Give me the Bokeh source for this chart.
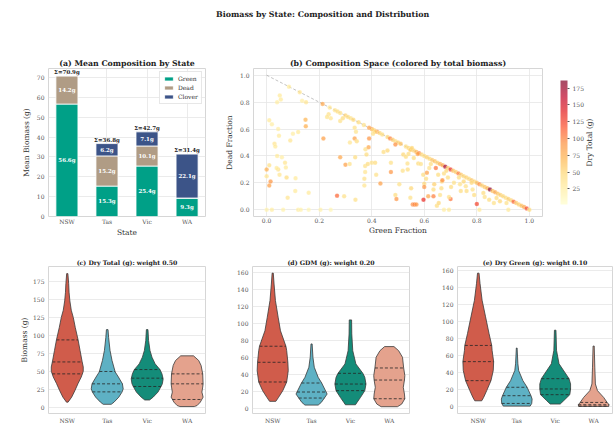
import numpy as np
from bokeh.plotting import figure
from bokeh.models import (ColumnDataSource, FixedTicker, LinearColorMapper, Label,
                          ColorBar, Div, Legend, LegendItem, PrintfTickFormatter)
from bokeh.layouts import column, row
from bokeh.embed import file_html
from bokeh.resources import INLINE
from bokeh.core.properties import value
from bokeh.palettes import YlOrRd9
from bokeh.transform import linear_cmap

SERIF = "DejaVu Serif"

# ---------------- data ----------------
states = ["NSW", "Tas", "Vic", "WA"]
green_mean = [56.6, 15.3, 25.4, 9.3]
dead_mean = [14.2, 15.2, 10.1, 0.0]
clover_mean = [0.1, 6.2, 7.1, 22.1]
total_mean = [70.9, 36.8, 42.7, 31.4]
comp_labels = ["Green", "Dead", "Clover"]
comp_colors = ["#00A087", "#B09C85", "#3C5488"]
violin_colors = ["#D05C4B", "#5EB1C4", "#148C79", "#E4A28D"]

# composition scatter: green fraction, dead fraction, dry total (g)
green_frac = [0.085, 0.126, 0.213, 0.24, 0.26, 0.27, 0.28, 0.30, 0.31, 0.32, 0.33, 0.35, 0.37, 0.39, 0.40,
              0.41, 0.42, 0.43, 0.44, 0.46, 0.47, 0.48, 0.49, 0.50, 0.51, 0.53, 0.54, 0.55, 0.56, 0.57,
              0.58, 0.59, 0.60, 0.61, 0.62, 0.63, 0.64, 0.65, 0.66, 0.67, 0.68, 0.69, 0.70, 0.71, 0.72,
              0.73, 0.74, 0.75, 0.76, 0.77, 0.78, 0.79, 0.80, 0.81, 0.82, 0.83, 0.84, 0.85, 0.86, 0.87,
              0.88, 0.89, 0.90, 0.91, 0.92, 0.93, 0.94, 0.95, 0.96, 0.97, 0.98, 0.99, 1.00,
              0.236, 0.244, 0.23, 0.28, 0.29, 0.335, 0.34, 0.317, 0.335, 0.343, 0.404, 0.413, 0.405,
              0.135, 0.05, 0.054, 0.04, 0.15, 0.01, 0.02, 0.148, 0.149, 0.044, 0.047, 0.03, 0.033, 0.10,
              0.12, 0.09, 0.04, 0.058, 0.07, 0.073, 0.044, 0.038, 0.049, 0.0, 0.0, 0.01, 0.015, 0.01,
              0.076, 0.11, 0.08, 0.109, 0.16, 0.0, 0.02, 0.063, 0.12, 0.13, 0.16, 0.205, 0.244, 0.216,
              0.28, 0.30, 0.316, 0.337, 0.268, 0.295, 0.338, 0.376, 0.38, 0.388, 0.39, 0.375, 0.375,
              0.372, 0.372, 0.385, 0.40, 0.413, 0.417, 0.433, 0.445, 0.46, 0.473, 0.473, 0.49, 0.49,
              0.494, 0.505, 0.52, 0.53, 0.536, 0.547, 0.54, 0.518, 0.537, 0.55, 0.547, 0.556, 0.563,
              0.57, 0.56, 0.575, 0.553, 0.577, 0.587, 0.596, 0.60, 0.60, 0.597, 0.615, 0.61, 0.607,
              0.625, 0.619, 0.638, 0.635, 0.635, 0.644, 0.653, 0.648, 0.655, 0.66, 0.665, 0.667, 0.669,
              0.675, 0.684, 0.69, 0.70, 0.694, 0.702, 0.713, 0.732, 0.736, 0.739, 0.75, 0.758, 0.761,
              0.78, 0.784, 0.79, 0.80, 0.81, 0.825, 0.83, 0.847, 0.865, 0.875, 0.888, 0.913, 0.92,
              0.675, 0.694]
dead_frac = [0.915, 0.874, 0.787, 0.76, 0.74, 0.73, 0.72, 0.70, 0.69, 0.68, 0.67, 0.65, 0.63, 0.61, 0.60,
             0.59, 0.58, 0.57, 0.56, 0.54, 0.53, 0.52, 0.51, 0.50, 0.49, 0.47, 0.46, 0.45, 0.44, 0.43,
             0.42, 0.41, 0.40, 0.39, 0.38, 0.37, 0.36, 0.35, 0.34, 0.33, 0.32, 0.31, 0.30, 0.29, 0.28,
             0.27, 0.26, 0.25, 0.24, 0.23, 0.22, 0.21, 0.20, 0.19, 0.18, 0.17, 0.16, 0.15, 0.14, 0.13,
             0.12, 0.11, 0.10, 0.09, 0.08, 0.07, 0.06, 0.05, 0.04, 0.03, 0.02, 0.01, 0.00,
             0.71, 0.68, 0.69, 0.66, 0.68, 0.61, 0.58, 0.50, 0.53, 0.51, 0.595, 0.58, 0.565,
             0.81, 0.85, 0.82, 0.80, 0.80, 0.665, 0.635, 0.67, 0.62, 0.60, 0.55, 0.49, 0.47, 0.565,
             0.578, 0.515, 0.40, 0.39, 0.35, 0.315, 0.30, 0.31, 0.26, 0.30, 0.25, 0.33, 0.21, 0.18,
             0.24, 0.235, 0.09, 0.14, 0.126, 0.0, 0.0, 0.0, 0.0, 0.0, 0.0, 0.0, 0.0, 0.53,
             0.39, 0.335, 0.34, 0.39, 0.105, 0.10, 0.075, 0.45, 0.41, 0.465, 0.53, 0.325, 0.28,
             0.23, 0.18, 0.34, 0.35, 0.35, 0.26, 0.195, 0.43, 0.44, 0.28, 0.35, 0.485, 0.11,
             0.08, 0.19, 0.41, 0.395, 0.344, 0.445, 0.415, 0.29, 0.30, 0.16, 0.09, 0.04, 0.04,
             0.04, 0.385, 0.415, 0.46, 0.344, 0.34, 0.26, 0.194, 0.17, 0.075, 0.10, 0.275, 0.23,
             0.34, 0.31, 0.19, 0.15, 0.10, 0.31, 0.26, 0.03, 0.05, 0.11, 0.16, 0.21, 0.22,
             0.27, 0.29, 0.24, 0.08, 0.095, 0.17, 0.20, 0.24, 0.19, 0.14, 0.21, 0.175, 0.14,
             0.20, 0.15, 0.11, 0.043, 0.0, 0.125, 0.095, 0.075, 0.05, 0.088, 0.063, 0.05, 0.0,
             0.0, 0.0]
dry_total = [30, 35, 80, 35, 40, 45, 40, 55, 45, 40, 50, 45, 40, 85, 90,
             70, 95, 50, 45, 50, 100, 60, 45, 55, 65, 45, 50, 60, 55, 70,
             105, 50, 45, 55, 50, 60, 65, 55, 75, 80, 170, 60, 130, 65, 55,
             100, 60, 50, 55, 45, 60, 50, 65, 95, 55, 60, 70, 180, 65, 80,
             60, 55, 50, 45, 55, 50, 110, 60, 55, 65, 80, 120, 45,
             40, 35, 38, 40, 45, 40, 38, 35, 85, 45, 45, 50, 40,
             25, 30, 30, 25, 35, 30, 25, 70, 75, 25, 30, 35, 30, 25,
             30, 35, 30, 25, 35, 30, 40, 30, 35, 75, 35, 40, 90, 85,
             45, 30, 35, 30, 30, 20, 25, 20, 25, 20, 15, 20, 15, 85,
             80, 85, 40, 45, 110, 40, 40, 40, 45, 80, 90, 40, 35,
             40, 35, 45, 40, 45, 40, 85, 45, 50, 90, 40, 95, 45,
             90, 40, 50, 45, 40, 55, 45, 40, 45, 50, 40, 95, 100,
             90, 45, 80, 50, 45, 40, 45, 50, 90, 135, 80, 85, 45,
             45, 40, 55, 45, 100, 105, 45, 45, 50, 40, 45, 50, 95,
             45, 50, 45, 105, 40, 45, 40, 45, 40, 45, 50, 40, 45,
             50, 40, 45, 125, 30, 45, 40, 45, 40, 45, 50, 40, 30,
             25, 30]
ref_line_x = [0.0, 1.0]
ref_line_y = [1.0, 0.0]
cbar_low, cbar_high = 1.6, 186.5
cbar_ticks = [25, 50, 75, 100, 125, 150, 175]

# violin outlines: y levels and half widths
total_y = {"NSW": [7, 14, 23, 33, 42, 50, 56, 64, 79, 94, 111, 125, 135, 148, 160, 172, 186],
           "Tas": [4, 7, 14, 21, 25.5, 32.5, 42, 49, 65, 79, 97, 108],
           "Vic": [10, 14, 21, 29, 32.5, 39.4, 46.4, 52.4, 60.3, 69.6, 79, 93, 108],
           "WA": [0.9, 2.3, 7, 14, 21, 28, 32.5, 46.4, 58, 65, 71.5]}
total_w = {"NSW": [0.02, 0.11, 0.19, 0.27, 0.35, 0.40, 0.40, 0.37, 0.32, 0.27, 0.20, 0.15, 0.10, 0.065, 0.045, 0.035, 0.015],
           "Tas": [0.10, 0.17, 0.29, 0.37, 0.40, 0.38, 0.28, 0.20, 0.12, 0.07, 0.035, 0.02],
           "Vic": [0.06, 0.15, 0.27, 0.35, 0.38, 0.40, 0.37, 0.32, 0.20, 0.12, 0.07, 0.035, 0.02],
           "WA": [0.18, 0.25, 0.33, 0.40, 0.37, 0.39, 0.40, 0.39, 0.35, 0.29, 0.16]}
total_q = {"NSW": [46.4, 63, 93.7], "Tas": [21.3, 32.5, 49.7],
           "Vic": [28.8, 40.4, 52.4], "WA": [10.7, 32.5, 46.4]}

gdm_y = {"NSW": [7.9, 12.6, 20.5, 30.7, 44, 53.9, 67.6, 72.8, 91, 107, 126.6, 146, 158.9],
         "Tas": [3.5, 6.7, 11.8, 16.5, 18.9, 29.5, 36.2, 48, 59.8, 75.5],
         "Vic": [3.9, 6.7, 12.6, 20.5, 28.3, 36.2, 40.9, 52, 67.6, 87.3, 103.8],
         "WA": [1.6, 4.7, 11, 16.5, 24.4, 33, 38.2, 47.2, 59.8, 67.6, 72.4]}
gdm_w = {"NSW": [0.08, 0.15, 0.26, 0.36, 0.40, 0.39, 0.36, 0.34, 0.20, 0.14, 0.07, 0.035, 0.015],
         "Tas": [0.17, 0.25, 0.33, 0.40, 0.375, 0.26, 0.17, 0.07, 0.035, 0.015],
         "Vic": [0.13, 0.17, 0.26, 0.37, 0.40, 0.37, 0.32, 0.14, 0.06, 0.035, 0.03],
         "WA": [0.21, 0.32, 0.40, 0.39, 0.36, 0.39, 0.40, 0.37, 0.34, 0.24, 0.12]}
gdm_q = {"NSW": [30.7, 53.9, 72.8], "Tas": [11.8, 18.9, 29.5],
         "Vic": [20.5, 28.3, 40.9], "WA": [11, 33, 47.2]}

green_y = {"NSW": [7, 11, 19, 30.7, 42.6, 53, 66, 72, 86, 105.6, 125, 145, 156.9],
           "Tas": [0.8, 3.9, 9, 13, 22.9, 30.7, 42.6, 50.5, 69],
           "Vic": [3.2, 7.1, 14.2, 20.9, 26.8, 33, 50.5, 66.2, 89.9],
           "WA": [0.4, 2.4, 5.1, 11, 18.9, 26.8, 46.5, 71.3]}
green_w = {"NSW": [0.09, 0.14, 0.22, 0.33, 0.39, 0.40, 0.36, 0.35, 0.28, 0.19, 0.10, 0.045, 0.02],
           "Tas": [0.35, 0.39, 0.40, 0.37, 0.27, 0.16, 0.05, 0.03, 0.01],
           "Vic": [0.13, 0.22, 0.38, 0.40, 0.40, 0.36, 0.10, 0.035, 0.02],
           "WA": [0.39, 0.40, 0.35, 0.26, 0.10, 0.045, 0.03, 0.015]}
green_q = {"NSW": [30.7, 53, 72], "Tas": [3.9, 13, 22.9],
           "Vic": [14.2, 20.9, 33], "WA": [0.8, 2.4, 5.1]}


# ---------------- helpers ----------------
def style(p, xgrid=True, title_size="7.8px"):
    p.background_fill_color = "white"
    p.border_fill_color = "white"
    p.outline_line_color = "#d6d6d6"
    p.outline_line_width = 1
    p.grid.grid_line_color = "#e6e6e6"
    p.grid.grid_line_width = 0.8
    if not xgrid:
        p.xgrid.grid_line_color = None
    for ax in p.axis:
        ax.axis_line_color = None
        ax.major_tick_line_color = None
        ax.minor_tick_line_color = None
        ax.major_tick_out = 0
        ax.major_tick_in = 0
        ax.minor_tick_out = 0
        ax.minor_tick_in = 0
        ax.major_label_standoff = 4
        ax.major_label_text_font = SERIF
        ax.major_label_text_font_size = "6px"
        ax.major_label_text_color = "#555555"
        ax.axis_label_text_font = SERIF
        ax.axis_label_text_font_size = "7.5px"
        ax.axis_label_text_font_style = "normal"
        ax.axis_label_text_color = "#333333"
        ax.axis_label_standoff = 3
    p.title.text_font = SERIF
    p.title.text_font_style = "bold"
    p.title.text_font_size = title_size
    p.title.text_color = "#222222"
    p.title.align = "center"
    p.title.standoff = 2


def cat_axis(p):
    p.xaxis.ticker = FixedTicker(ticks=list(range(len(states))))
    p.xaxis.major_label_overrides = {i: s for i, s in enumerate(states)}


# ---------------- (a) stacked bars ----------------
pa = figure(frame_width=157, frame_height=148, x_range=(-0.46, 3.46), y_range=(0, 74.5),
            min_border_left=48, min_border_right=5, min_border_top=44, min_border_bottom=26,
            output_backend="svg", toolbar_location=None, title="(a) Mean Composition by State")
src_a = ColumnDataSource(dict(x=list(range(len(states))), green=green_mean, dead=dead_mean,
                              clover=clover_mean))
bars = pa.vbar_stack(["green", "dead", "clover"], x="x", width=0.55, color=comp_colors,
                     source=src_a, line_color="white", line_width=0.8)
seg_x, seg_y, seg_t = [], [], []
for i in range(len(states)):
    base = 0.0
    for vals in (green_mean, dead_mean, clover_mean):
        v = vals[i]
        if v > 3:
            seg_x.append(i)
            seg_y.append(base + v / 2)
            seg_t.append(f"{v:.1f}g")
        base += v
pa.text(x=seg_x, y=seg_y, text=seg_t, text_color="white", text_font=value(SERIF),
        text_font_style="bold", text_font_size="5.5px", text_align="center", text_baseline="middle")
tops = [g + d + c for g, d, c in zip(green_mean, dead_mean, clover_mean)]
pa.text(x=list(range(len(states))), y=tops, text=[f"Σ={t:.1f}g" for t in total_mean],
        text_color="#222222", text_font=value(SERIF), text_font_style="bold",
        text_font_size="5.5px", text_align="center", text_baseline="bottom", y_offset=-1)
leg = Legend(items=[LegendItem(label=l, renderers=[r]) for l, r in zip(comp_labels, bars)],
             location="top_right")
leg.label_text_font = SERIF
leg.label_text_font_size = "6px"
leg.label_text_color = "#333333"
leg.glyph_width = 11
leg.glyph_height = 5
leg.label_height = 6
leg.label_standoff = 4
leg.spacing = 2
leg.padding = 3
leg.margin = 3
leg.border_line_color = "#d0d0d0"
leg.border_line_width = 0.8
leg.background_fill_alpha = 0.85
pa.add_layout(leg)
style(pa)
cat_axis(pa)
pa.yaxis.ticker = FixedTicker(ticks=[0, 10, 20, 30, 40, 50, 60, 70])
pa.xaxis.axis_label = "State"
pa.yaxis.axis_label = "Mean Biomass (g)"
pa.xaxis.major_label_standoff = 1
pa.xaxis.axis_label_standoff = 0

# ---------------- (b) composition scatter ----------------
pb = figure(frame_width=289, frame_height=148, x_range=(-0.05, 1.05), y_range=(-0.05, 1.05),
            min_border_left=43, min_border_right=5, min_border_top=44, min_border_bottom=26,
            output_backend="svg", toolbar_location=None,
            title="(b) Composition Space (colored by total biomass)")
base_pal = list(reversed(YlOrRd9))


def hex2rgb(h):
    return np.array([int(h[k:k + 2], 16) for k in (1, 3, 5)], dtype=float)


pal = []
for k in range(256):
    t = k / 255 * (len(base_pal) - 1)
    j = min(int(t), len(base_pal) - 2)
    f = t - j
    c = hex2rgb(base_pal[j]) * (1 - f) + hex2rgb(base_pal[j + 1]) * f
    pal.append("#%02x%02x%02x" % tuple(int(round(v)) for v in c))

pb.line(ref_line_x, ref_line_y, line_color="black", line_alpha=0.3, line_dash="3 2", line_width=0.8)
src_b = ColumnDataSource(dict(g=green_frac, d=dead_frac, t=dry_total))
pb.scatter("g", "d", source=src_b, size=4.5,
           fill_color=linear_cmap("t", pal, cbar_low, cbar_high), fill_alpha=0.7,
           line_color="white", line_width=0.3, line_alpha=0.7)
style(pb)
ticks01 = [0.0, 0.2, 0.4, 0.6, 0.8, 1.0]
pb.xaxis.ticker = FixedTicker(ticks=ticks01)
pb.yaxis.ticker = FixedTicker(ticks=ticks01)
pb.xaxis.formatter = PrintfTickFormatter(format="%.1f")
pb.yaxis.formatter = PrintfTickFormatter(format="%.1f")
pb.xaxis.axis_label = "Green Fraction"
pb.yaxis.axis_label = "Dead Fraction"
pb.xaxis.major_label_standoff = 1
pb.xaxis.axis_label_standoff = 0

# colour bar and its label live in a narrow companion figure
pl = figure(frame_width=66, frame_height=148, x_range=(0, 1), y_range=(0, 1),
            min_border_left=0, min_border_right=0, min_border_top=44, min_border_bottom=26,
            x_axis_type=None, y_axis_type=None, output_backend="svg", toolbar_location=None)
mapper = LinearColorMapper(palette=pal, low=cbar_low, high=cbar_high)
cb = ColorBar(color_mapper=mapper, width=7, height=124, ticker=FixedTicker(ticks=cbar_ticks),
              scale_alpha=0.7, location=(13, 12), padding=0, margin=0,
              major_label_text_font=SERIF, major_label_text_font_size="6px",
              major_label_text_color="#555555", major_tick_line_color="#555555",
              major_tick_out=2, major_tick_in=0, label_standoff=3,
              bar_line_color=None, border_line_color=None, background_fill_alpha=0)
pl.add_layout(cb)
pl.add_layout(Label(x=42, y=74, x_units="screen", y_units="screen", text="Dry Total (g)",
                    angle=np.pi / 2, text_align="center", text_baseline="middle",
                    text_font=SERIF, text_font_size="7.5px", text_color="#333333"))
pl.grid.grid_line_color = None
pl.outline_line_color = None
pl.background_fill_color = "white"
pl.border_fill_color = "white"


# ---------------- (c)-(e) violins ----------------
def violin_panel(title, ys, ws, qs, yr, xr, ticks, ylabel=None, left=40, right=2, fw=157):
    p = figure(frame_width=fw, frame_height=147, x_range=xr, y_range=yr,
               min_border_left=left, min_border_right=right, min_border_top=24,
               min_border_bottom=16, output_backend="svg", toolbar_location=None, title=title)
    for i, st in enumerate(states):
        y = np.array(ys[st], dtype=float)
        w = np.array(ws[st], dtype=float)
        xs = np.concatenate([i + w, (i - w)[::-1]])
        yy = np.concatenate([y, y[::-1]])
        p.patch(xs, yy, fill_color=violin_colors[i], line_color="#3a3a3a", line_width=0.8)
        for q in qs[st]:
            hw = float(np.interp(q, y, w))
            p.line([i - hw, i + hw], [q, q], line_color="#262626", line_dash="3 2", line_width=0.8)
    style(p, xgrid=False, title_size="6.2px")
    cat_axis(p)
    p.yaxis.ticker = FixedTicker(ticks=ticks)
    p.xaxis.major_label_standoff = 3
    if ylabel:
        p.yaxis.axis_label = ylabel
        p.yaxis.axis_label_standoff = 1
    return p


pc = violin_panel("(c) Dry Total (g): weight 0.50", total_y, total_w, total_q, (-8.8, 195.9),
                  (-0.47, 3.46), [0, 25, 50, 75, 100, 125, 150, 175], ylabel="Biomass (g)",
                  left=48, right=5, fw=157)
pd_ = violin_panel("(d) GDM (g): weight 0.20", gdm_y, gdm_w, gdm_q, (-6.4, 166.7),
                   (-0.52, 3.52), [0, 20, 40, 60, 80, 100, 120, 140, 160],
                   left=42, right=5, fw=157)
pe = violin_panel("(e) Dry Green (g): weight 0.10", green_y, green_w, green_q, (-7.9, 164.7),
                  (-0.54, 3.49), [0, 20, 40, 60, 80, 100, 120, 140, 160],
                  left=43, right=1, fw=155)

title_div = Div(text='<div style="margin-left:216px;padding-top:9px;white-space:nowrap;'
                     'font-family:\'DejaVu Serif\';font-weight:bold;font-size:7.9px;'
                     'line-height:12px;color:#222;">'
                     'Biomass by State: Composition and Distribution</div>',
                width=613, height=24, margin=(0, 0, 0, 0))

layout = column(title_div, row(pa, pb, pl), row(pc, pd_, pe))
open("out.html", "w").write(file_html(layout, INLINE))
